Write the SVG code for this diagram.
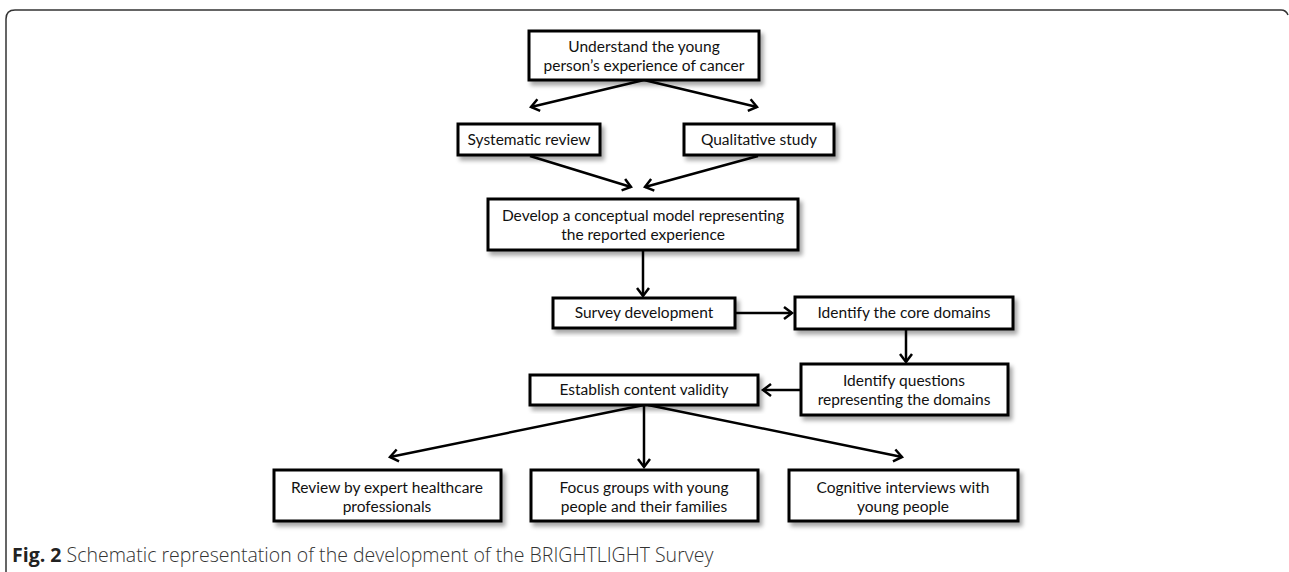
<svg xmlns="http://www.w3.org/2000/svg" width="1289" height="572" viewBox="0 0 1289 572">
<defs>
<filter id="sh" x="-10%" y="-20%" width="130%" height="150%">
<feDropShadow dx="3" dy="4" stdDeviation="2" flood-color="#000" flood-opacity="0.35"/>
</filter>
<marker id="arr" markerUnits="userSpaceOnUse" markerWidth="16" markerHeight="16" viewBox="0 0 16 16" refX="13" refY="8" orient="auto">
<path d="M5,2 L13,8 L5,14" fill="none" stroke="#000" stroke-width="2.5" stroke-linejoin="miter"/>
</marker>
<style>
.box{fill:#fff;stroke:#000;stroke-width:3;filter:url(#sh)}
.t{font-family:Lato,"Liberation Sans",sans-serif;font-size:15.5px;fill:#111;text-anchor:middle}
.c{stroke:#000;stroke-width:2.5;fill:none;marker-end:url(#arr)}
.cap{font-family:"Open Sans","Liberation Sans",sans-serif;font-size:19.5px;font-weight:300;fill:#333}
</style>
</defs>
<rect width="1289" height="572" fill="#fff"/>
<path d="M6,572 L6,19 Q6,10 15,10 L1281,10 Q1286,10 1288,15" fill="none" stroke="#333" stroke-width="1.5"/>
<g id="connectors">
<line class="c" x1="644" y1="80" x2="531" y2="107"/>
<line class="c" x1="644" y1="80" x2="757" y2="107"/>
<line class="c" x1="530" y1="156" x2="631" y2="187"/>
<line class="c" x1="758" y1="156" x2="645" y2="187"/>
<line class="c" x1="643" y1="250" x2="643" y2="296"/>
<line class="c" x1="735" y1="313" x2="792" y2="313"/>
<line class="c" x1="906" y1="330" x2="906" y2="362"/>
<line class="c" x1="801" y1="390" x2="763" y2="390"/>
<line class="c" x1="644" y1="405" x2="390" y2="457"/>
<line class="c" x1="644" y1="405" x2="644" y2="467"/>
<line class="c" x1="648" y1="405" x2="902" y2="457"/>
</g>
<g id="n1"><rect class="box" x="529" y="31" width="230" height="49"/><text class="t" x="644" y="52">Understand the young</text><text class="t" x="644" y="71">person’s experience of cancer</text></g>
<g id="n2"><rect class="box" x="458" y="124" width="142" height="31"/><text class="t" x="529" y="145">Systematic review</text></g>
<g id="n3"><rect class="box" x="684" y="124" width="150" height="31"/><text class="t" x="759" y="145">Qualitative study</text></g>
<g id="n4"><rect class="box" x="488" y="199" width="310" height="51"/><text class="t" x="643" y="221">Develop a conceptual model representing</text><text class="t" x="643" y="240">the reported experience</text></g>
<g id="n5"><rect class="box" x="553" y="298" width="182" height="30"/><text class="t" x="644" y="318">Survey development</text></g>
<g id="n6"><rect class="box" x="795" y="297" width="218" height="32"/><text class="t" x="904" y="318">Identify the core domains</text></g>
<g id="n7"><rect class="box" x="801" y="364" width="207" height="51"/><text class="t" x="904" y="386">Identify questions</text><text class="t" x="904" y="405">representing the domains</text></g>
<g id="n8"><rect class="box" x="530" y="375" width="228" height="30"/><text class="t" x="644" y="395">Establish content validity</text></g>
<g id="n9"><rect class="box" x="274" y="470" width="227" height="51"/><text class="t" x="387" y="493">Review by expert healthcare</text><text class="t" x="387" y="512">professionals</text></g>
<g id="n10"><rect class="box" x="531" y="470" width="227" height="51"/><text class="t" x="644" y="493">Focus groups with young</text><text class="t" x="644" y="512">people and their families</text></g>
<g id="n11"><rect class="box" x="789" y="470" width="229" height="51"/><text class="t" x="903" y="493">Cognitive interviews with</text><text class="t" x="903" y="512">young people</text></g>
<text class="cap" x="12" y="562"><tspan font-weight="bold" fill="#222">Fig. 2</tspan> Schematic representation of the development of the BRIGHTLIGHT Survey</text>
</svg>
